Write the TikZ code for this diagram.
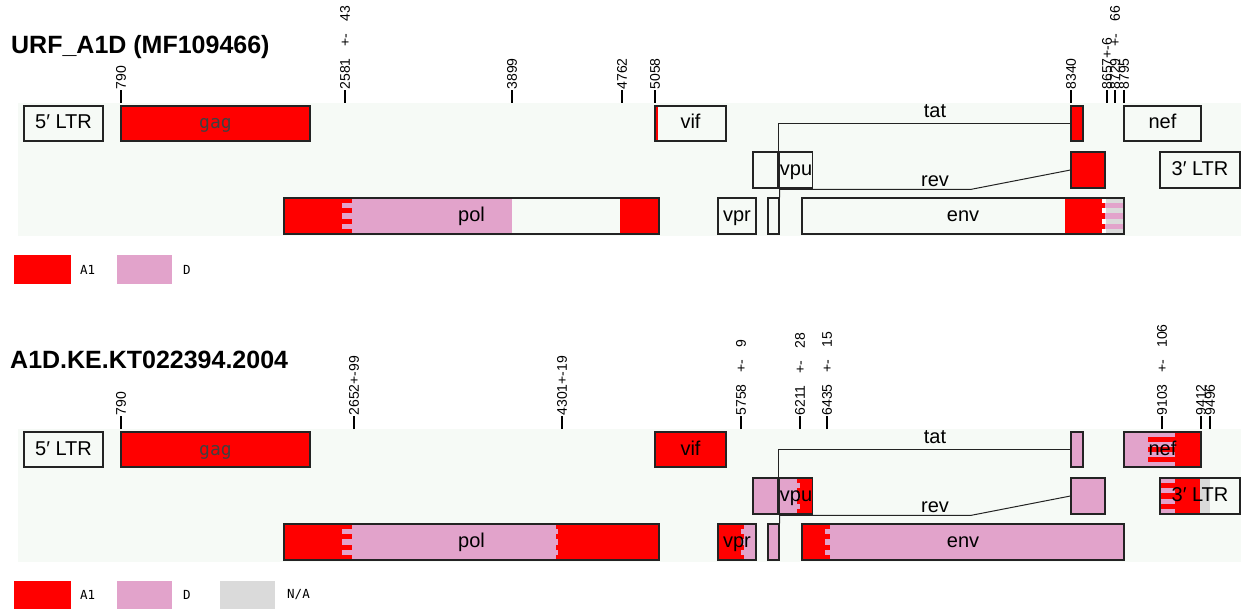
\documentclass[tikz,border=0pt]{standalone}
\usepackage{fontspec}
\setmainfont{Liberation Sans}
\newfontfamily\monofont{DejaVu Sans Mono}
\usetikzlibrary{calc,positioning}

\definecolor{aone}{RGB}{255,0,0}
\definecolor{dpink}{RGB}{226,163,203}
\definecolor{nagrey}{RGB}{218,218,218}
\definecolor{panelbg}{RGB}{246,250,246}
\definecolor{edge}{RGB}{35,35,35}

\tikzset{
  gene/.style={draw=edge, line width=1.1pt, inner sep=0pt, text height=14pt, text depth=3pt,
    font=\fontsize{20}{22}\selectfont},
  link/.style={draw=edge, line width=1pt},
  ticklabel/.style={rotate=90, anchor=west, inner sep=0pt, font=\fontsize{14}{16}\selectfont,
    execute at begin node={\spaceskip=0.85em\relax}},
  tickline/.style={line width=1.1pt},
  title/.style={anchor=west, inner sep=0pt, font=\fontsize{25}{28}\selectfont\bfseries},
  legendtext/.style={anchor=west, inner sep=0pt, font=\monofont\fontsize{12.5}{14}\selectfont},
}

% name, x1, x2, y1, y2, text
\newcommand{\genebox}[6]{%
  \node[gene, minimum width={(#3)-(#2)}, minimum height={(#5)-(#4)}] (#1)
    at ({((#2)+(#3))/2},{((#4)+(#5))/2}) {#6};}
% x1, x2, y1, y2, colour
\newcommand{\bands}[5]{%
  \foreach \k in {0,2,4,6}
    \fill[#5] (#1,{#3+\k*(#4-#3)/7}) rectangle (#2,{#3+(\k+1)*(#4-#3)/7});}
% name, x, text
\newcommand{\tickmark}[3]{%
  \draw[tickline] (#2,103) -- (#2,90) node[ticklabel] (#1) {#3};}

\newcommand{\genome}[1]{%
  \genebox{ltrL#1}{24}{103}{106}{141}{5′ LTR}
  \genebox{gag#1}{121}{310}{106}{141}{\monofont\fontsize{18}{20}\selectfont\color{black!75}gag}
  \genebox{vif#1}{655}{726}{106}{141}{vif}
  \genebox{tatB#1}{1071}{1083}{106}{141}{}
  \genebox{nef#1}{1124}{1201}{106}{141}{nef}
  \genebox{tatA#1}{753}{778}{152}{188}{}
  \genebox{vpu#1}{780}{812}{152}{188}{vpu}
  \genebox{revB#1}{1071}{1105}{152}{188}{}
  \genebox{ltrR#1}{1160}{1240}{152}{188}{3′ LTR}
  \genebox{pol#1}{284}{659}{198}{234}{pol}
  \genebox{vpr#1}{718}{756}{198}{234}{vpr}
  \genebox{revA#1}{768}{779}{198}{234}{}
  \genebox{env#1}{802}{1124}{198}{234}{env}
  \draw[link] (tatA#1.north east) |- (tatB#1.west);
  \draw[link] (revA#1.north east) -- ++(0,-8) -- ++(191,0) -- (revB#1.west);
  \node[gene, draw=none] (tatlbl#1) at (935,112) {tat};
  \node[gene, draw=none] (revlbl#1) at (935,181) {rev};
}

\begin{document}
\begin{tikzpicture}[x=1pt, y=-1pt]
  \useasboundingbox (0,0) rectangle (1245,612);
  \node[title] (titleA) at (11,47) {URF\_A1D (MF109466)};
  \node[title] (titleB) at (10,360) {A1D.KE.KT022394.2004};

  % URF_A1D
  \fill[panelbg] (18,103) rectangle (1241,236);
  \fill[aone] (121,106) rectangle (310,141);
  \fill[aone] (655,106) rectangle (658,141);
  \fill[aone] (1071,106) rectangle (1083,141);
  \fill[aone] (1071,152) rectangle (1105,188);
  \fill[aone] (284,198) rectangle (342,234);
  \fill[dpink] (342,198) rectangle (512,234);
  \bands{342}{352}{198}{234}{aone}
  \fill[aone] (620,198) rectangle (659,234);
  \fill[aone] (1065,198) rectangle (1105,234);
  \fill[dpink] (1105,198) rectangle (1124,234);
  \bands{1105}{1124}{198}{234}{nagrey}
  \bands{1102}{1106}{198}{234}{white}
  \genome{A}
  \tickmark{tA1}{121}{790}
  \tickmark{tA2}{345}{2581 +- 43}
  \tickmark{tA3}{512}{3899}
  \tickmark{tA4}{622}{4762}
  \tickmark{tA5}{655}{5058}
  \tickmark{tA6}{1071}{8340}
  \tickmark{tA7}{1107}{8657+-6}
  \tickmark{tA8}{1115}{8729 +- 66}
  \tickmark{tA9}{1124}{8795}
  \fill[aone] (14,255) rectangle (71,284);
  \node[legendtext] (lgAoneA) at (80,270) {A1};
  \fill[dpink] (117,255) rectangle (172,284);
  \node[legendtext] (lgDA) at (183,270) {D};

  % A1D.KE.KT022394.2004
  \begin{scope}[yshift=-326pt]
    \fill[panelbg] (18,103) rectangle (1241,236);
    \fill[aone] (121,106) rectangle (310,141);
    \fill[aone] (655,106) rectangle (726,141);
    \fill[dpink] (1071,106) rectangle (1083,141);
    \fill[dpink] (1124,106) rectangle (1148,141);
    \fill[aone] (1148,106) rectangle (1201,141);
    \bands{1148}{1175}{106}{141}{dpink}
    \fill[dpink] (753,152) rectangle (778,188);
    \fill[dpink] (780,152) rectangle (800,188);
    \fill[aone] (800,152) rectangle (812,188);
    \bands{797}{801}{152}{188}{aone}
    \fill[dpink] (1071,152) rectangle (1105,188);
    \fill[aone] (1160,152) rectangle (1200,188);
    \bands{1160}{1175}{152}{188}{dpink}
    \fill[nagrey] (1200,152) rectangle (1210,188);
    \fill[aone] (284,198) rectangle (659,234);
    \fill[dpink] (342,198) rectangle (558,234);
    \bands{342}{352}{198}{234}{aone}
    \bands{556}{560}{198}{234}{aone}
    \fill[aone] (718,198) rectangle (741,234);
    \fill[dpink] (741,198) rectangle (756,234);
    \bands{741}{744}{198}{234}{aone}
    \fill[dpink] (768,198) rectangle (779,234);
    \fill[dpink] (802,198) rectangle (1124,234);
    \fill[aone] (802,198) rectangle (825,234);
    \bands{825}{830}{198}{234}{aone}
    \genome{B}
    \tickmark{tB1}{121}{790}
    \tickmark{tB2}{354}{2652+-99}
    \tickmark{tB3}{562}{4301+-19}
    \tickmark{tB4}{741}{5758 +- 9}
    \tickmark{tB5}{800}{6211 +- 28}
    \tickmark{tB6}{827}{6435 +- 15}
    \tickmark{tB7}{1162}{9103 +- 106}
    \tickmark{tB8}{1201}{9412}
    \tickmark{tB9}{1210}{9496}
    \fill[aone] (14,255) rectangle (71,283);
    \node[legendtext] (lgAoneB) at (80,269) {A1};
    \fill[dpink] (117,255) rectangle (172,283);
    \node[legendtext] (lgDB) at (183,269) {D};
    \fill[nagrey] (220,255) rectangle (275,283);
    \node[legendtext] (lgNAB) at (287,269) {N/A};
  \end{scope}
\end{tikzpicture}
\end{document}
